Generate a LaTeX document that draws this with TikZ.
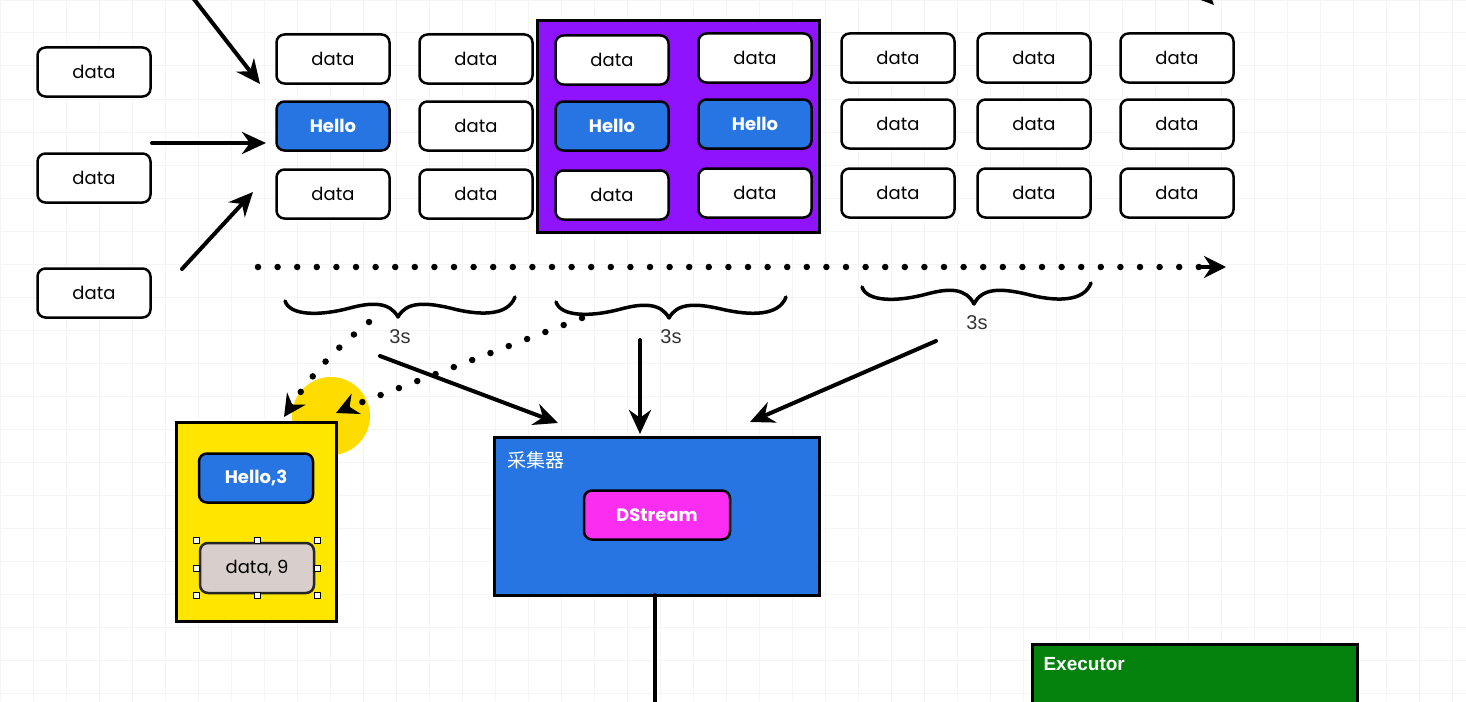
\documentclass[tikz,border=0pt]{standalone}
\usepackage{fontspec}
\setmainfont{Poppins}
\newfontfamily\labelfont{Liberation Sans}
\newfontfamily\cjkfont{Noto Sans CJK SC}
\usetikzlibrary{arrows.meta}
\definecolor{helloblue}{RGB}{38,117,226}
\definecolor{boxpurple}{RGB}{144,19,254}
\definecolor{boxyellow}{RGB}{255,230,0}
\definecolor{streampink}{RGB}{250,45,240}
\definecolor{execgreen}{RGB}{4,128,12}
\definecolor{datagray}{RGB}{216,206,204}
\begin{document}
\begin{tikzpicture}[x=1pt,y=-1pt,line cap=round,line join=round,>={Stealth[length=24pt,width=22pt]},
	databox/.style={draw,line width=2.5pt,rounded corners=8pt,fill=white,minimum width=113pt,minimum height=49pt,inner sep=0pt,font=\fontsize{18}{20}\selectfont},
	hellobox/.style={databox,fill=helloblue,text=white,font=\fontsize{18}{20}\selectfont\bfseries},
	frame/.style={draw,line width=3pt,line join=miter},
	arrow/.style={->,line width=4pt},
	dotline/.style={line width=6.5pt,dash pattern=on 0pt off 19.6pt},
	curly/.style={line width=3.5pt},
	seclabel/.style={font=\labelfont\fontsize{20}{22}\selectfont,text=black!80},
	handle/.style={draw,fill=white,line width=1pt,minimum size=6pt,inner sep=0pt}]
	\useasboundingbox (0,0) rectangle (1466,701);
	\clip (0,0) rectangle (1466,701);
	\fill[white] (0,0) rectangle (1466,701);
	\draw[black!4,line width=1pt] (0,0) grid[step=33pt] (1466,701);
	% stream of records
	\draw[frame,fill=boxpurple] (537,21) rectangle (819,232);
	\node[databox] (src1) at (94,72) {data};
	\node[databox] (src2) at (94,178) {data};
	\node[databox] (src3) at (94,293) {data};
	\node[databox] (g11) at (333,59) {data};
	\node[hellobox] (g21) at (333,126) {Hello};
	\node[databox] (g31) at (333,194) {data};
	\node[databox] (g12) at (476,59) {data};
	\node[databox] (g22) at (476,126) {data};
	\node[databox] (g32) at (476,194) {data};
	\node[databox] (g13) at (612,60) {data};
	\node[hellobox] (g23) at (612,126) {Hello};
	\node[databox] (g33) at (612,195) {data};
	\node[databox] (g14) at (755,58) {data};
	\node[hellobox] (g24) at (755,124) {Hello};
	\node[databox] (g34) at (755,193) {data};
	\node[databox] (g15) at (898,58) {data};
	\node[databox] (g25) at (898,124) {data};
	\node[databox] (g35) at (898,193) {data};
	\node[databox] (g16) at (1034,58) {data};
	\node[databox] (g26) at (1034,124) {data};
	\node[databox] (g36) at (1034,193) {data};
	\node[databox] (g17) at (1177,58) {data};
	\node[databox] (g27) at (1177,124) {data};
	\node[databox] (g37) at (1177,193) {data};
	\coordinate (in1) at (190,-6);
	\coordinate (in1e) at (260,84);
	\coordinate (in2) at (152,143);
	\coordinate (in2e) at (266,143);
	\coordinate (in3) at (182,269);
	\coordinate (in3e) at (253,192);
	\coordinate (in4) at (1150,-60);
	\coordinate (in4e) at (1214,5);
	\draw[arrow] (in1) -- (in1e);
	\draw[arrow] (in2) -- (in2e);
	\draw[arrow] (in3) -- (in3e);
	\draw[arrow] (in4) -- (in4e);
	% time axis and batches
	\coordinate (t0) at (258,267);
	\coordinate (t1) at (1226,267);
	\draw[dotline] (t0) -- (1205,267);
	\draw[line width=4pt,-{Stealth[length=22pt,width=22pt]}] (1200,267) -- (t1);
	\draw[curly] (285,301) .. controls (290,316) and (320,316) .. (350,308) .. controls (372,302) and (390,302) .. (398,317) .. controls (406,302) and (424,302) .. (450,308) .. controls (480,316) and (508,316) .. (515,297);
	\draw[curly] (556,302) .. controls (561,317) and (591,317) .. (621,309) .. controls (643,303) and (661,303) .. (669,318) .. controls (677,303) and (695,303) .. (721,309) .. controls (751,316) and (779,316) .. (786,297);
	\draw[curly] (862,287) .. controls (867,302) and (897,302) .. (927,294) .. controls (949,288) and (966,288) .. (974,304) .. controls (982,288) and (1000,288) .. (1026,294) .. controls (1056,302) and (1084,302) .. (1091,283);
	\node[seclabel] (sec1) at (400,337) {3s};
	\node[seclabel] (sec2) at (671,337) {3s};
	\node[seclabel] (sec3) at (977,323) {3s};
	% cursor highlight
	\fill[boxyellow!90!orange] (331,416) circle (39pt);
	% batch result
	\draw[frame,fill=boxyellow] (176,422) rectangle (336,621);
	\node[hellobox,minimum width=114pt] (res1) at (256,478) {Hello,3};
	\node[databox,fill=datagray,minimum width=114pt,minimum height=50pt,draw=black!85] (res2) at (257,568) {data, 9};
	\node[handle] at ([shift={(-2,-1)}]res2.north west) {};
	\node[handle] at ([shift={(0,-1)}]res2.north) {};
	\node[handle] at ([shift={(2,-1)}]res2.north east) {};
	\node[handle] at ([shift={(-2,0)}]res2.west) {};
	\node[handle] at ([shift={(2,0)}]res2.east) {};
	\node[handle] at ([shift={(-2,1)}]res2.south west) {};
	\node[handle] at ([shift={(0,1)}]res2.south) {};
	\node[handle] at ([shift={(2,1)}]res2.south east) {};
	% collector
	\draw[frame,fill=helloblue] (494,437) rectangle (819,595);
	\node[anchor=west,text=white,font=\cjkfont\fontsize{19}{20}\selectfont] (coll) at (504,460) {采集器};
	\node[databox,fill=streampink,text=white,minimum width=146pt,font=\fontsize{18}{20}\selectfont\bfseries] (dstream) at (657,515) {DStream};
	\coordinate (down) at (655,710);
	\draw[line width=4pt] (655,595) -- (down);
	\draw[frame,fill=execgreen] (1032,644) rectangle (1357,720);
	\node[anchor=west,text=white,font=\labelfont\bfseries\fontsize{19}{20}\selectfont] (exec) at (1040,664) {Executor};
	% batches to results
	\coordinate (b1) at (369,322);
	\coordinate (b2) at (582,318);
	\coordinate (r1) at (284,417);
	\coordinate (r2) at (336,413);
	\draw[dotline] (b1) to[bend right=8] (292,404);
	\draw[line width=4pt,-{Stealth[length=22pt,width=22pt]}] (290,408) -- (r1);
	\draw[dotline] (b2) -- (352,406);
	\draw[line width=4pt,-{Stealth[length=22pt,width=22pt]}] (347,408) -- (r2);
	\coordinate (a1) at (380,356);
	\coordinate (a1e) at (558,423);
	\coordinate (a2) at (640,340);
	\coordinate (a2e) at (640,434);
	\coordinate (a3) at (936,341);
	\coordinate (a3e) at (750,422);
	\draw[arrow] (a1) -- (a1e);
	\draw[arrow] (a2) -- (a2e);
	\draw[arrow] (a3) -- (a3e);
\end{tikzpicture}
\end{document}
